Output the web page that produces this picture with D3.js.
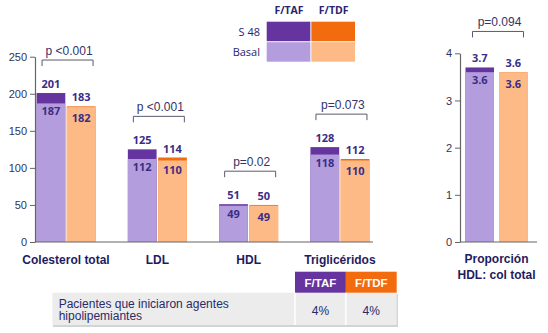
<!DOCTYPE html>
<html><head><meta charset="utf-8">
<script src="https://cdn.jsdelivr.net/npm/d3@7"></script>
<style>body{margin:0;background:#fff}svg{display:block}</style>
</head><body><svg id="c" width="548" height="333"></svg>
<script>
const categories = ["Colesterol total", "LDL", "HDL", "Triglicéridos"];
const groups = ["F/TAF", "F/TDF"];
const tafBasal = [187, 112, 49, 118];
const tafS48   = [201, 125, 51, 128];
const tdfBasal = [182, 110, 49, 110];
const tdfS48   = [183, 114, 50, 112];
const pValues  = ["p <0.001", "p <0.001", "p=0.02", "p=0.073"];
const yTicks = [0, 50, 100, 150, 200, 250];

const ratioCategory = ["Proporción", "HDL: col total"];
const ratioBasal = [3.6, 3.6];
const ratioS48 = [3.7, 3.6];
const ratioP = "p=0.094";
const ratioTicks = [0, 1, 2, 3, 4];

const legendRows = ["S 48", "Basal"];
const tableRow = ["Pacientes que iniciaron agentes", "hipolipemiantes"];
const tableValues = ["4%", "4%"];

const colors = {
  "F/TAF": {s48: "#66349f", basal: "#b49ddc"},
  "F/TDF": {s48: "#f26b0e", basal: "#fdb986"}
};
const navy = "#1f1b5e", valCol = "#3b2d86", tickCol = "#333355";

const svg = d3.select("#c");

function drawPanel(opts) {
  const {cats, x, y, basal, s48, ticks, p, axisX, axisEnd, labelLines, labelY} = opts;
  const g = svg.append("g");
  const inner = d3.scaleBand().domain(groups).range(opts.inner).paddingInner(opts.pad);
  const data = [];
  cats.forEach((c, i) => {
    groups.forEach((gr, j) => {
      data.push({c, i, gr, basal: basal[j][i], s48: s48[j][i]});
    });
  });
  g.selectAll(".s48").data(data).join("rect")
    .attr("x", d => x(d.c) + x.bandwidth() / 2 + inner(d.gr))
    .attr("width", inner.bandwidth())
    .attr("y", d => y(Math.max(d.s48, d.basal)))
    .attr("height", d => y(0) - y(Math.max(d.s48, d.basal)))
    .attr("fill", d => colors[d.gr].s48);
  g.selectAll(".basal").data(data).join("rect")
    .attr("x", d => x(d.c) + x.bandwidth() / 2 + inner(d.gr))
    .attr("width", inner.bandwidth())
    .attr("y", d => y(d.basal))
    .attr("height", d => y(0) - y(d.basal))
    .attr("fill", d => colors[d.gr].basal);
  const lab = (sel) => sel.attr("text-anchor", "middle").attr("fill", valCol)
    .attr("font-family", "'Open Sans', sans-serif").attr("font-weight", "bold").attr("font-size", "11px");
  g.selectAll(".vs").data(data).join("text").call(lab)
    .attr("x", d => x(d.c) + x.bandwidth() / 2 + inner(d.gr) + inner.bandwidth() / 2)
    .attr("y", d => y(d.s48) - 9 + 4)
    .text(d => d.s48);
  g.selectAll(".vb").data(data).join("text").call(lab)
    .attr("x", d => x(d.c) + x.bandwidth() / 2 + inner(d.gr) + inner.bandwidth() / 2)
    .attr("y", d => d.gr === "F/TAF" ? y(d.basal) + 8 + 4 : y(d.s48) + 12 + 4)
    .text(d => d.basal);
  cats.forEach((c, i) => {
    const top = y(Math.max(s48[0][i], s48[1][i])) - opts.brOff;
    const cx = x(c) + x.bandwidth() / 2;
    const x0 = cx - 24, x1 = cx + 27;
    g.append("path").attr("d", `M${x0},${top + 6}V${top}H${x1}V${top + 6}`)
      .attr("fill", "none").attr("stroke", "#5a5a6e").attr("stroke-width", 1);
    g.append("text").attr("x", cx + 3).attr("y", top - 5.5).attr("text-anchor", "middle")
      .attr("font-family", "'Liberation Sans', Arial, sans-serif").attr("font-size", "12px")
      .attr("fill", "#333366").text(p[i]);
  });
  const ax = g.append("g").attr("transform", `translate(${axisX},0)`)
    .call(d3.axisLeft(y).tickValues(ticks).tickFormat(d3.format("d")).tickSize(5).tickSizeOuter(0).tickPadding(3));
  ax.select(".domain").attr("stroke", "#666").attr("stroke-width", 1.2);
  ax.selectAll(".tick line").attr("stroke", "#666");
  ax.selectAll(".tick text").attr("fill", tickCol).attr("font-size", "11px")
    .attr("font-family", "'Liberation Sans', Arial, sans-serif");
  g.append("line").attr("x1", axisX).attr("x2", axisEnd).attr("y1", y(0)).attr("y2", y(0))
    .attr("stroke", "#666").attr("stroke-width", 1.2);
  labelLines.forEach((lines, i) => {
    const t = g.append("text").attr("text-anchor", "middle")
      .attr("font-family", "'Liberation Sans', Arial, sans-serif").attr("font-weight", "bold")
      .attr("font-size", "12px").attr("fill", navy);
    lines.forEach((ln, k) => t.append("tspan").attr("x", x(cats[i]) + x.bandwidth() / 2)
      .attr("y", labelY + k * 16).text(ln));
  });
}

const xL = d3.scaleBand().domain(categories).range([20.4, 385.6]);
const yL = d3.scaleLinear().domain([0, 250]).range([242, 56.7]);
drawPanel({
  cats: categories, x: xL, y: yL,
  basal: [tafBasal, tdfBasal], s48: [tafS48, tdfS48],
  ticks: yTicks, p: pValues, axisX: 35, axisEnd: 373,
  inner: [-29.5, 29.5], pad: 0.05, brOff: 33,
  labelLines: categories.map(c => [c]), labelY: 264
});

const xR = d3.scaleBand().domain(["ratio"]).range([450.9, 542.1]);
const yR = d3.scaleLinear().domain([0, 4]).range([242, 53.3]);
drawPanel({
  cats: ["ratio"], x: xR, y: yR,
  basal: [[ratioBasal[0]], [ratioBasal[1]]], s48: [[ratioS48[0]], [ratioS48[1]]],
  ticks: ratioTicks, p: [ratioP], axisX: 460, axisEnd: 537,
  inner: [-31, 31], pad: 0.15, brOff: 36,
  labelLines: [ratioCategory], labelY: 263
});

const lg = svg.append("g");
const lx = d3.scaleBand().domain(groups).range([266.7, 356]);
const ly = d3.scaleBand().domain(legendRows).range([21.7, 62.7]);
groups.forEach(gr => {
  legendRows.forEach(r => {
    lg.append("rect").attr("x", lx(gr)).attr("y", ly(r))
      .attr("width", lx.bandwidth() - 1).attr("height", ly.bandwidth() - 1)
      .attr("fill", r === "S 48" ? colors[gr].s48 : colors[gr].basal);
  });
  lg.append("text").attr("x", lx(gr) + lx.bandwidth() / 2).attr("y", 14)
    .attr("text-anchor", "middle").attr("font-family", "'Open Sans', sans-serif")
    .attr("font-weight", "bold").attr("font-size", "10.5px").attr("fill", "#2a2370").text(gr);
});
legendRows.forEach(r => {
  lg.append("text").attr("x", 260).attr("y", ly(r) + ly.bandwidth() / 2 + 4)
    .attr("text-anchor", "end").attr("font-family", "'Open Sans', sans-serif")
    .attr("font-size", "11px").attr("fill", "#2a2370").text(r);
});

const tb = svg.append("g");
const tx = d3.scaleBand().domain(groups).range([295, 396.7]);
tb.append("rect").attr("x", 53).attr("y", 294).attr("width", 345).attr("height", 33).attr("fill", "#d4d4d4");
tb.append("rect").attr("x", 52.3).attr("y", 292.7).attr("width", 344.4).attr("height", 32.3).attr("fill", "#ececec");
groups.forEach((gr, j) => {
  tb.append("rect").attr("x", tx(gr)).attr("y", 271.7).attr("width", tx.bandwidth()).attr("height", 21)
    .attr("fill", colors[gr].s48);
  tb.append("text").attr("x", tx(gr) + tx.bandwidth() / 2).attr("y", 286.5).attr("text-anchor", "middle")
    .attr("font-family", "'Liberation Sans', Arial, sans-serif").attr("font-weight", "bold")
    .attr("font-size", "11.5px").attr("fill", "#fff").text(gr);
  tb.append("line").attr("x1", tx(gr)).attr("x2", tx(gr)).attr("y1", 292.7).attr("y2", 325)
    .attr("stroke", "#fff").attr("stroke-width", 1.5);
  tb.append("text").attr("x", tx(gr) + tx.bandwidth() / 2).attr("y", 314.5).attr("text-anchor", "middle")
    .attr("font-family", "'Liberation Sans', Arial, sans-serif").attr("font-size", "12px")
    .attr("fill", "#2a2a6a").text(tableValues[j]);
});
tableRow.forEach((ln, k) => {
  tb.append("text").attr("x", 58.7).attr("y", 307.5 + k * 12.7)
    .attr("font-family", "'Liberation Sans', Arial, sans-serif").attr("font-size", "12px")
    .attr("fill", "#2a2a6a").text(ln);
});
</script></body></html>
